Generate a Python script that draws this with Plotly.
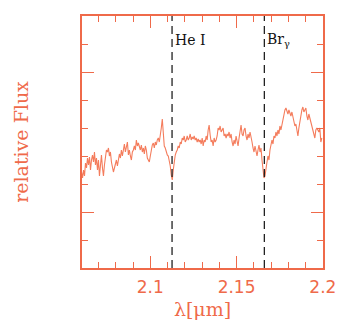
import plotly.graph_objects as go

# Wavelength sampling of the spectrum (micron)
WL_START = 2.06012
WL_STEP = 0.000578

# Relative flux
FLUX = [
    0.96, 0.90, 0.98, 0.92, 1.05, 1.00, 1.10, 1.03, 1.11, 0.98, 1.08, 1.13, 1.06, 1.16, 1.03,
    1.10, 0.98, 1.08, 0.92, 1.06, 1.13, 1.00, 0.92, 1.03, 1.10, 1.18, 1.16, 1.20, 1.12, 1.16,
    1.06, 1.02, 0.96, 1.00, 1.04, 1.08, 1.02, 1.10, 1.14, 1.10, 1.18, 1.12, 1.18, 1.24, 1.16,
    1.20, 1.26, 1.13, 1.18, 1.12, 1.08, 1.16, 1.18, 1.22, 1.18, 1.28, 1.22, 1.25,
    1.20, 1.18, 1.23, 1.16, 1.20, 1.14, 1.22, 1.18, 1.10, 1.08, 1.06, 1.12, 1.18, 1.23, 1.25,
    1.20, 1.26, 1.23, 1.28, 1.30, 1.26, 1.32, 1.40, 1.49, 1.36, 1.22, 1.20, 1.16, 1.13, 1.12,
    1.08, 1.02, 0.93, 0.88, 0.98, 1.08, 1.13, 1.16, 1.18, 1.22, 1.20, 1.26, 1.24, 1.30, 1.28,
    1.32, 1.26, 1.28, 1.32, 1.28, 1.30, 1.34, 1.28, 1.31, 1.29, 1.32, 1.28, 1.30, 1.26, 1.29,
    1.26,
    1.28, 1.24, 1.30, 1.22, 1.28, 1.26, 1.32, 1.28, 1.38, 1.43, 1.33, 1.26, 1.28, 1.22, 1.30,
    1.26, 1.28, 1.32, 1.40, 1.38, 1.42, 1.36, 1.38, 1.40, 1.32, 1.34, 1.30, 1.34, 1.32, 1.36,
    1.30, 1.34, 1.26, 1.22, 1.28, 1.24, 1.32, 1.28, 1.22, 1.30, 1.38, 1.43, 1.34, 1.32, 1.38,
    1.40, 1.32, 1.28, 1.34, 1.30, 1.36, 1.32, 1.26, 1.20, 1.16, 1.22, 1.16, 1.12, 1.18, 1.23,
    1.16,
    1.20, 1.08, 0.96, 0.90, 0.92, 1.02, 1.06, 1.12, 1.08, 1.18, 1.22, 1.28, 1.24, 1.32, 1.30,
    1.36, 1.32, 1.38, 1.34, 1.42, 1.38, 1.44, 1.50, 1.54, 1.58, 1.60, 1.56, 1.54, 1.58, 1.54,
    1.52, 1.56, 1.50, 1.46, 1.42, 1.44, 1.36, 1.32, 1.40, 1.48, 1.54, 1.58, 1.61, 1.56, 1.58,
    1.60, 1.52, 1.48, 1.54, 1.50, 1.46, 1.42, 1.38, 1.32, 1.30, 1.38, 1.40, 1.38, 1.36, 1.40,
    1.26, 1.30,
]
WAVELENGTH = [round(WL_START + i * WL_STEP, 5) for i in range(len(FLUX))]

# Tick labels on the wavelength axis
X_TICKS = [2.1, 2.15, 2.2]
X_TICK_TEXT = ["2.1", "2.15", "2.2"]

# Line identifications (micron)
LINE_NAMES = ["He I", "Br<sub>γ</sub>"]
LINE_WL = [2.1126, 2.1661]

X_RANGE = [2.0604, 2.2001]
Y_RANGE = [0.0, 2.52]

ORANGE = "#ef6a4a"
LINE_COL = "#f47c5c"

fig = go.Figure()
fig.add_trace(go.Scatter(
    x=WAVELENGTH, y=FLUX, mode="lines",
    line=dict(color=LINE_COL, width=1.1),
    hoverinfo="skip", showlegend=False,
))

for name, wl in zip(LINE_NAMES, LINE_WL):
    fig.add_shape(type="line", xref="x", yref="paper", x0=wl, x1=wl, y0=0, y1=1,
                  line=dict(color="#222222", width=1.3, dash="8px,5px"))
    fig.add_annotation(x=wl + 0.0004, y=0.905, xref="x", yref="paper", text=name,
                       showarrow=False, xanchor="left", yanchor="middle",
                       font=dict(family="DejaVu Serif", size=14, color="#111111"))

fig.update_xaxes(
    range=X_RANGE, showgrid=False, zeroline=False, automargin=False,
    showline=True, linecolor=ORANGE, linewidth=2, mirror="allticks",
    ticks="inside", ticklen=12, tickwidth=1.4, tickcolor=ORANGE,
    tickmode="array", tickvals=X_TICKS, ticktext=X_TICK_TEXT,
    minor=dict(ticks="inside", ticklen=6, tickwidth=1.4, tickcolor=ORANGE,
               tickmode="linear", dtick=0.01, tick0=2.1, showgrid=False),
    tickfont=dict(family="DejaVu Sans", size=17, color=ORANGE),
    ticklabelstandoff=3,
    title=dict(text="λ[μm]", font=dict(family="DejaVu Serif", size=19, color=ORANGE), standoff=6),
)
fig.update_yaxes(
    range=Y_RANGE, showgrid=False, zeroline=False, automargin=False,
    showline=True, linecolor=ORANGE, linewidth=2, mirror="allticks",
    ticks="inside", ticklen=12, tickwidth=1.4, tickcolor=ORANGE,
    tick0=0.557, dtick=1.396, showticklabels=False,
    minor=dict(ticks="inside", ticklen=6, tickwidth=1.4, tickcolor=ORANGE, dtick=0.2792, tick0=0.2792, showgrid=False),
    title=dict(text="relative Flux", font=dict(family="DejaVu Serif", size=19, color=ORANGE), standoff=46),
)

fig.update_layout(
    width=342, height=327,
    margin=dict(l=82, r=19, t=16, b=59),
    paper_bgcolor="white", plot_bgcolor="white",
)

fig.write_html("out.html")
